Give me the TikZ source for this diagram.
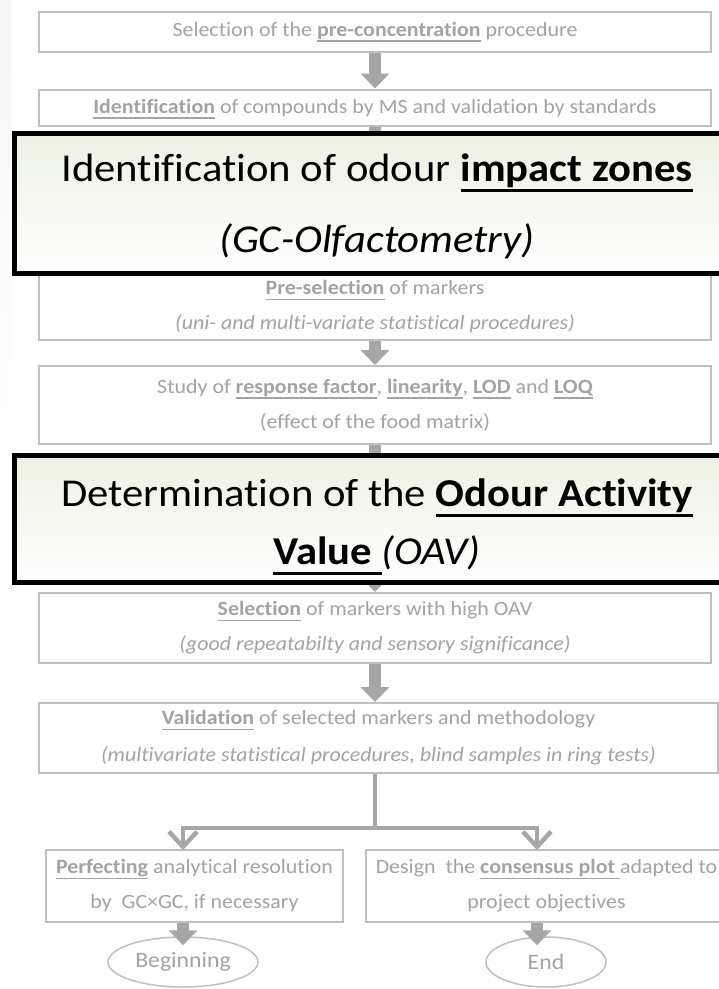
\documentclass[tikz,border=0pt]{standalone}
\usepackage{fontspec}
\setmainfont{Carlito}[FakeStretch=1.08, Ligatures=NoCommon]
\usetikzlibrary{shapes.geometric,arrows.meta}

\definecolor{boxgray}{HTML}{BFBFBF}
\definecolor{txtgray}{HTML}{A3A3A3}
\definecolor{arrgray}{HTML}{A6A6A6}
\definecolor{paleg}{HTML}{EDF1E3}
\definecolor{stripgray}{HTML}{F6F6F6}

% bold, underlined key words (rule at a fixed depth below the baseline)
\newsavebox{\kwbox}
\newcommand{\kw}[1]{\sbox{\kwbox}{\bfseries #1}%
  \rlap{\rule[-0.26em]{\wd\kwbox}{0.065em}}\usebox{\kwbox}}
\newcommand{\smallfnt}{\fontsize{20.3}{35}\selectfont}
\newcommand{\bigfnt}{\fontsize{39.5}{44}\selectfont}

\begin{document}
\begin{tikzpicture}[x=1pt,y=-1pt,
  graybox/.style={draw=boxgray, line width=2pt, fill=white, inner sep=0pt,
    align=center, text=txtgray, font=\smallfnt},
  bigbox/.style={draw=black, line width=5pt, top color=paleg, bottom color=white,
    inner sep=0pt, align=center, text=black, font=\bigfnt},
  flowarrow/.style={draw=arrgray, line width=12pt,
    -{Triangle[width=28pt,length=15pt]}},
  branch/.style={draw=arrgray, line width=4.5pt},
  branchtip/.style={branch, -{Straight Barb[width=28pt,length=15pt]}},
  endoval/.style={ellipse, draw=boxgray, line width=1.5pt, fill=white,
    inner sep=0pt, text=txtgray, font=\fontsize{22}{24}\selectfont}
]
\useasboundingbox (0,0) rectangle (719,989);
\clip (0,0) rectangle (719,989);
\shade[top color=stripgray, bottom color=white] (0,0) rectangle (11,430);

% gray process boxes
\node[graybox, minimum width=672pt, minimum height=40pt] (s1) at (375,32)
  {Selection of the \kw{pre-concentration} procedure};
\node[graybox, minimum width=672pt, minimum height=36pt] (s2) at (375,107.5)
  {\rule{0pt}{17pt}\kw{Identification} of compounds by MS and validation by standards};
\node[graybox, minimum width=672pt, minimum height=66pt] (s3) at (375,307)
  {\kw{Pre-selection} of markers\\ \textit{(uni- and multi-variate statistical procedures)}};
\node[graybox, minimum width=672pt, minimum height=78pt] (s4) at (375,405)
  {Study of \kw{response factor}, \kw{linearity}, \kw{LOD} and \kw{LOQ}\\ (effect of the food matrix)};
\node[graybox, minimum width=672pt, minimum height=70pt] (s5) at (375,628)
  {\kw{Selection} of markers with high OAV\\ \textit{(good repeatabilty and sensory significance)}};
\node[graybox, minimum width=679pt, minimum height=70pt] (s6) at (378.5,738)
  {\kw{Validation} of selected markers and methodology\\[2pt] \textit{(multivariate statistical procedures, blind samples in ring tests)}};
\node[graybox, minimum width=297pt, minimum height=72pt] (p1) at (194.5,886)
  {\kw{Perfecting} analytical resolution\\ by\ \ GC×GC, if necessary};
\node[graybox, minimum width=361pt, minimum height=72pt] (d1) at (546.5,886)
  {Design\ \ the \kw{consensus plot\ }adapted to\\ project objectives};

% terminal ovals
\node[endoval, minimum width=150pt, minimum height=50pt] (beg) at (183,962) {Beginning};
\node[endoval, minimum width=120pt, minimum height=50pt] (fin) at (546,962) {End};

% main flow arrows
\draw[flowarrow] (s1.south) -- (s2.north);
\draw[flowarrow] (s2.south) -- (s3.north);
\draw[flowarrow] (s3.south) -- (s4.north);
\draw[flowarrow] (s4.south) -- (s5.north);
\draw[flowarrow] (s5.south) -- (s5.south |- s6.north);

% fork to the two final steps
\coordinate (fork) at (375,828);
\coordinate (lt) at (183,850);
\coordinate (rt) at (537,850);
\draw[branch] (s6.south -| fork) -- (fork);
\draw[branchtip] (fork) -| (lt);
\draw[branchtip] (fork) -| (rt);

\draw[flowarrow, shorten >=-9pt] (p1.south -| beg) -- (beg.north);
\draw[flowarrow, shorten >=-9pt] (d1.south -| rt) -- (fin.north -| rt);

% highlighted steps
\node[bigbox, minimum width=726pt, minimum height=140pt] (b1) at (377,203)
  {\rule{0pt}{34pt}Identification of odour \kw{impact zones}\\[27pt] \textit{(GC-Olfactometry)}};
\node[bigbox, minimum width=726pt, minimum height=127pt] (b2) at (377,518.5)
  {\rule{0pt}{44pt}Determination of the \kw{Odour Activity}\\[14pt] \kw{Value\ }\textit{(OAV)}};
\end{tikzpicture}
\end{document}
